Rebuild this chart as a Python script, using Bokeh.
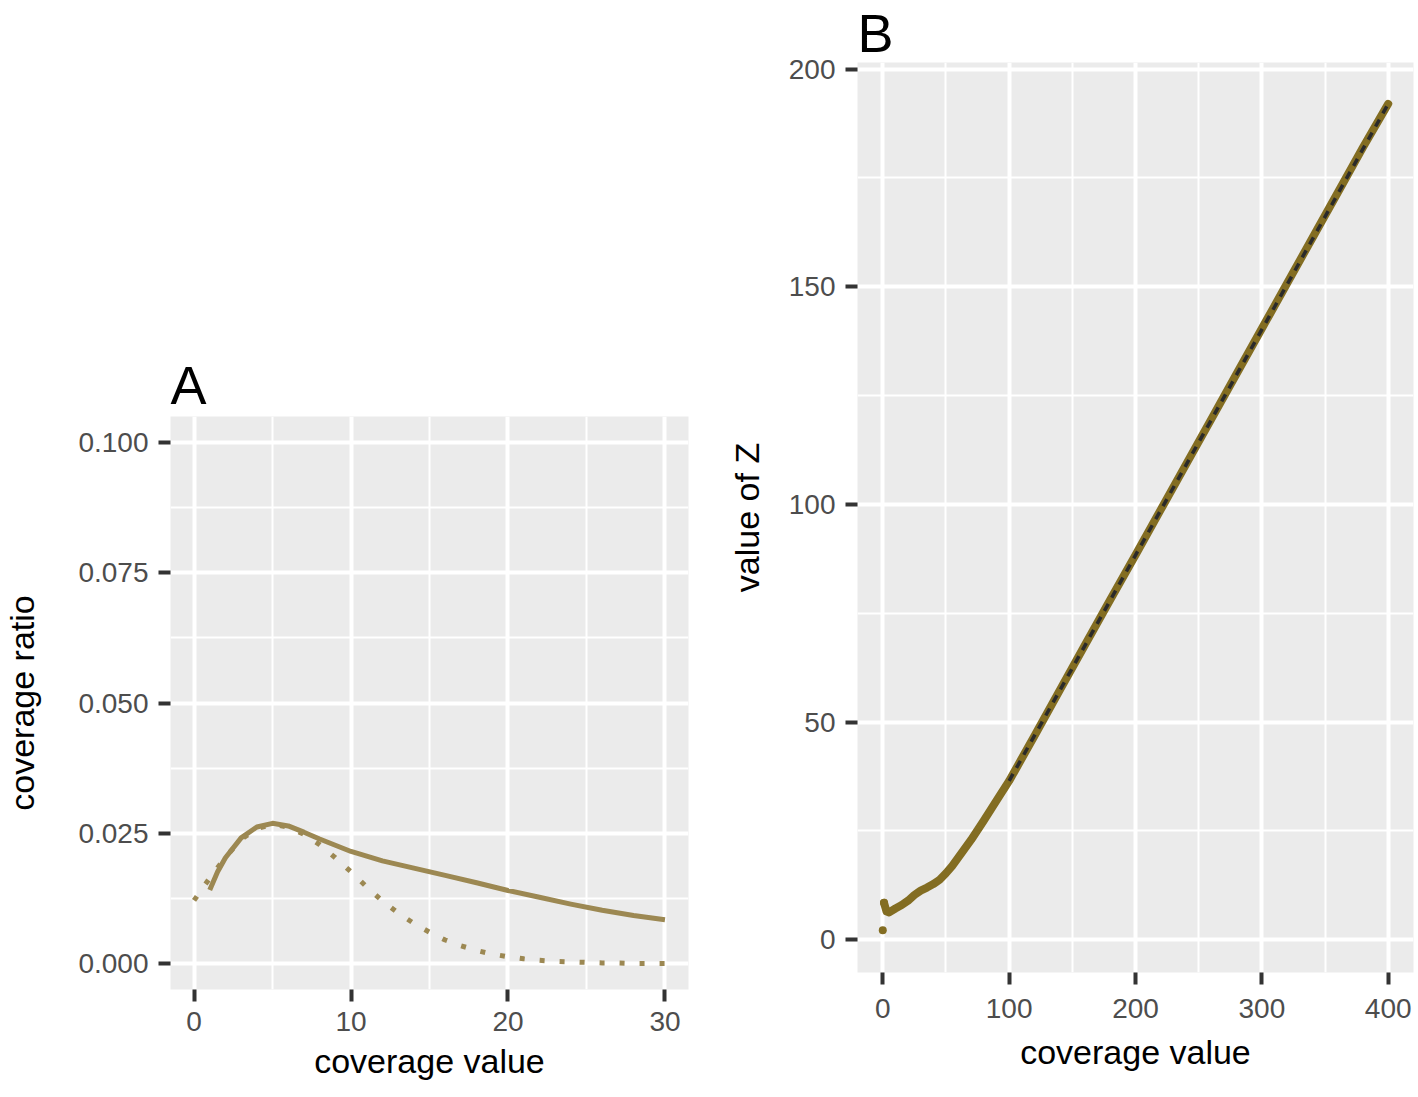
from bokeh.plotting import figure
from bokeh.layouts import row, column
from bokeh.models import FixedTicker, Spacer
from bokeh.embed import file_html
from bokeh.resources import INLINE

# ---------------- data ----------------
# Panel A: observed coverage ratio (solid) and fitted curve (dotted)
a_obs_x = [1, 1.5, 2, 3, 4, 5, 6, 7, 8, 9, 10, 12, 14, 16, 18, 20, 22, 24, 26, 28, 30]
a_obs_y = [0.0141, 0.0176, 0.0203, 0.0241, 0.0262, 0.0269, 0.0264, 0.0252, 0.0239,
           0.0227, 0.0215, 0.0197, 0.0183, 0.0169, 0.0155, 0.0140, 0.0127, 0.0114,
           0.0102, 0.0092, 0.0084]
a_fit_x = list(range(0, 31))
a_fit_y = [0.0121, 0.0164, 0.0204, 0.0238, 0.0259, 0.0267, 0.0262, 0.0248, 0.0228,
           0.0203, 0.0176, 0.0147, 0.0120, 0.0097, 0.0077, 0.0060, 0.0045, 0.0034,
           0.0025, 0.0018, 0.0013, 0.0009, 0.0006, 0.0004, 0.0003, 0.0002, 0.0001,
           0.0001, 0.0000, 0.0000, 0.0000]
a_xticks = [0, 10, 20, 30]
a_xminor = [5, 15, 25]
a_yticks = [0.0, 0.025, 0.05, 0.075, 0.1]
a_yminor = [0.0125, 0.0375, 0.0625, 0.0875]
a_ylabels = ["0.000", "0.025", "0.050", "0.075", "0.100"]

# Panel B: value of Z vs coverage value, with linear fit (dashed)
b_x = [0, 1, 3, 5, 10, 15, 20, 25, 30, 35, 40, 45, 50, 55, 60, 70, 80, 90, 100,
       120, 140, 160, 180, 200, 220, 240, 260, 280, 300, 320, 340, 360, 380, 400]
b_y = [2.2, 8.5, 6.5, 6.3, 7.2, 8.0, 9.0, 10.3, 11.3, 12.0, 12.8, 13.8, 15.3, 17.0,
       19.0, 23.0, 27.4, 32.0, 36.5, 46.8, 57.3, 67.7, 78.1, 88.4, 98.8, 109.2,
       119.6, 130.0, 140.4, 150.8, 161.2, 171.6, 182.0, 192.0]
b_fit_x = [100, 400]
b_fit_y = [36.5, 192.0]
b_xticks = [0, 100, 200, 300, 400]
b_xminor = [50, 150, 250, 350]
b_yticks = [0, 50, 100, 150, 200]
b_yminor = [25, 75, 125, 175]

# ---------------- styling ----------------
FONT = "Liberation Sans"
PANEL_BG = "#EBEBEB"
COL_A = "#9C8852"
COL_B = "#836D22"


def style(p, xt, xm, yt, ym, xlabel, ylabel, ylab_standoff, xlab_standoff,
          xtick_standoff, title_standoff):
    p.background_fill_color = PANEL_BG
    p.border_fill_color = "white"
    p.outline_line_color = None
    p.xaxis.ticker = FixedTicker(ticks=xt, minor_ticks=xm)
    p.yaxis.ticker = FixedTicker(ticks=yt, minor_ticks=ym)
    for g in (p.xgrid, p.ygrid):
        g.grid_line_color = "white"
        g.grid_line_width = 4
        g.minor_grid_line_color = "white"
        g.minor_grid_line_width = 2
    for ax in (p.xaxis, p.yaxis):
        ax.axis_line_color = None
        ax.major_tick_line_color = "#333333"
        ax.major_tick_line_width = 4
        ax.major_tick_out = 12
        ax.major_tick_in = 0
        ax.minor_tick_line_color = None
        ax.major_label_text_font = FONT
        ax.major_label_text_font_size = "28px"
        ax.major_label_text_color = "#4D4D4D"
        ax.major_label_standoff = 10
        ax.axis_label_text_font = FONT
        ax.axis_label_text_font_size = "34px"
        ax.axis_label_text_font_style = "normal"
        ax.axis_label_text_color = "black"
    p.xaxis.major_label_standoff = xtick_standoff
    p.xaxis.axis_label = xlabel
    p.yaxis.axis_label = ylabel
    p.xaxis.axis_label_standoff = xlab_standoff
    p.yaxis.axis_label_standoff = ylab_standoff
    p.title.text_font = FONT
    p.title.text_font_size = "54px"
    p.title.text_font_style = "normal"
    p.title.text_color = "black"
    p.title.align = "left"
    p.title.standoff = title_standoff


# ---------------- Panel A ----------------
pA = figure(frame_width=518, frame_height=573, output_backend="svg",
            toolbar_location=None, title="A",
            x_range=(-1.5, 31.5), y_range=(-0.005, 0.105),
            min_border_left=161, min_border_right=36,
            min_border_top=60, min_border_bottom=98)
style(pA, a_xticks, a_xminor, a_yticks, a_yminor,
      "coverage value", "coverage ratio", 34, 8, 10, 4)
pA.yaxis.major_label_overrides = {t: l for t, l in zip(a_yticks, a_ylabels)}
pA.line(a_fit_x, a_fit_y, line_color=COL_A, line_width=5,
        line_dash="5 15", line_cap="butt")
pA.line(a_obs_x, a_obs_y, line_color=COL_A, line_width=5, line_cap="butt",
        line_join="round")

# ---------------- Panel B ----------------
pB = figure(frame_width=556, frame_height=910, output_backend="svg",
            toolbar_location=None, title="B",
            x_range=(-20, 420), y_range=(-7.5, 201.5),
            min_border_left=130, min_border_right=4,
            min_border_top=61, min_border_bottom=110)
style(pB, b_xticks, b_xminor, b_yticks, b_yminor,
      "coverage value", "value of Z", 20, 12, 14, 0)
pB.line(b_x[1:], b_y[1:], line_color=COL_B, line_width=8,
        line_cap="round", line_join="round")
pB.scatter(b_x[:2], b_y[:2], size=8, fill_color=COL_B, line_color=None)
pB.line(b_fit_x, b_fit_y, line_color="#2a2a2a", line_width=3.5,
        line_dash="8 7")

left = column(Spacer(width=715, height=350), pA)
layout = row(left, pB)
open("out.html", "w").write(file_html(layout, INLINE))
